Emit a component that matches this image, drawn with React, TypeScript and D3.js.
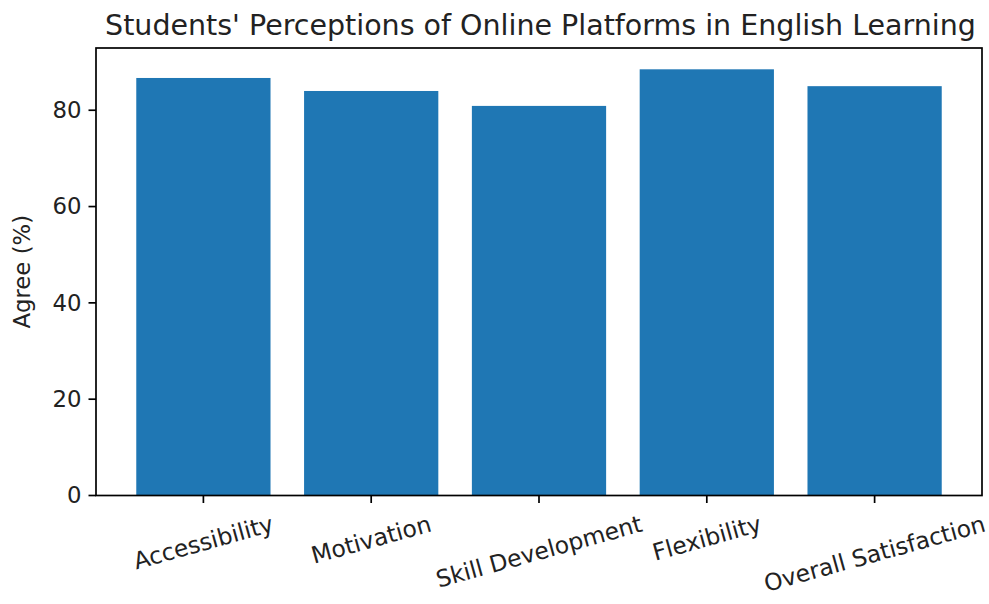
import React, { useEffect, useRef } from "react";
import * as d3 from "d3";

const categories = ["Accessibility", "Motivation", "Skill Development", "Flexibility", "Overall Satisfaction"];
const agreeValues = [86.7, 84.0, 80.9, 88.5, 85.0];
const yTicks = [0, 20, 40, 60, 80];
const titleText = "Students' Perceptions of Online Platforms in English Learning";
const yLabelText = "Agree (%)";

const W = 989;
const H = 604;
const M = { left: 96, right: 982, top: 48, bottom: 495.5 };
const FONT = "DejaVu Sans, sans-serif";
const TICK_FS = 22.8;
const XLABEL_FS = 23.4;
const TITLE_FS = 28.5;

export default function App() {
  const ref = useRef<SVGSVGElement | null>(null);

  useEffect(() => {
    const svg = d3.select(ref.current);
    svg.selectAll("*").remove();

    const x = d3.scaleBand<string>().domain(categories).range([M.left, M.right]).paddingInner(0.2).paddingOuter(0.24);
    const yMax = (d3.max(agreeValues) as number) * 1.05;
    const y = d3.scaleLinear().domain([0, yMax]).range([M.bottom, M.top]);

    svg.append("rect").attr("width", W).attr("height", H).attr("fill", "#fff");

    svg.selectAll("rect.bar")
      .data(categories)
      .enter()
      .append("rect")
      .attr("class", "bar")
      .attr("x", (d) => x(d) as number)
      .attr("width", x.bandwidth())
      .attr("y", (_d, i) => y(agreeValues[i]))
      .attr("height", (_d, i) => y(0) - y(agreeValues[i]))
      .attr("fill", "#1f77b4");

    // frame
    svg.append("rect")
      .attr("x", M.left).attr("y", M.top)
      .attr("width", M.right - M.left).attr("height", M.bottom - M.top)
      .attr("fill", "none").attr("stroke", "#000").attr("stroke-width", 1.7);

    // y ticks
    const tickLen = 7.5;
    yTicks.forEach((t) => {
      const yy = y(t);
      svg.append("line").attr("x1", M.left - tickLen).attr("x2", M.left).attr("y1", yy).attr("y2", yy)
        .attr("stroke", "#000").attr("stroke-width", 1.7);
      svg.append("text").attr("x", M.left - tickLen - 7).attr("y", yy).attr("dy", "0.346em")
        .attr("text-anchor", "end").attr("font-family", FONT).attr("font-size", TICK_FS).attr("fill", "#222")
        .text(String(t));
    });

    // x ticks and labels
    const ang = (15.5 * Math.PI) / 180;
    const labelTop = 510;
    categories.forEach((c) => {
      const cx = (x(c) as number) + x.bandwidth() / 2;
      svg.append("line").attr("x1", cx).attr("x2", cx).attr("y1", M.bottom).attr("y2", M.bottom + tickLen)
        .attr("stroke", "#000").attr("stroke-width", 1.7);
      const g = svg.append("g");
      const t = g.append("text").attr("x", 0).attr("y", 0).attr("dy", "0.346em")
        .attr("text-anchor", "middle").attr("font-family", FONT).attr("font-size", XLABEL_FS).attr("fill", "#222")
        .text(c);
      const w = (t.node() as SVGTextElement).getComputedTextLength();
      const h = XLABEL_FS * 1.164;
      const bh = w * Math.sin(ang) + h * Math.cos(ang);
      g.attr("transform", `translate(${cx},${labelTop + bh / 2}) rotate(-15.5)`);
    });

    // y label
    svg.append("text")
      .attr("transform", `translate(22.5,${(M.top + M.bottom) / 2}) rotate(-90)`)
      .attr("dy", "0.346em").attr("text-anchor", "middle")
      .attr("font-family", FONT).attr("font-size", TICK_FS).attr("fill", "#222")
      .text(yLabelText);

    // title
    svg.append("text")
      .attr("x", (M.left + M.right) / 2 + 1.5).attr("y", 34.5)
      .attr("text-anchor", "middle").attr("font-family", FONT).attr("font-size", TITLE_FS).attr("fill", "#222")
      .text(titleText);
  }, []);

  return (
    <svg ref={ref} width={W} height={H} style={{ position: "absolute", left: 0, top: 0 }} />
  );
}
